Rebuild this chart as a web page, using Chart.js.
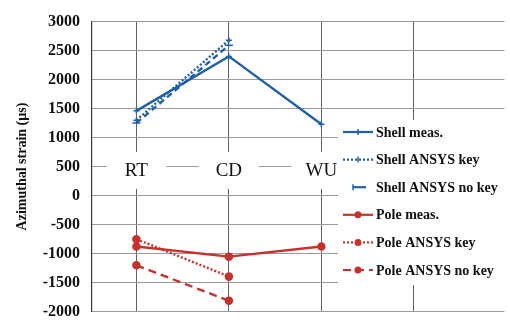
<!DOCTYPE html>
<html>
<head>
<meta charset="utf-8">
<script src="https://cdn.jsdelivr.net/npm/chart.js@4.4.1/dist/chart.umd.min.js"></script>
<style>
  html, body { margin: 0; padding: 0; background: #fff; }
  #wrap { width: 510px; height: 333px; }
</style>
</head>
<body>
<div id="wrap"><canvas id="strainChart" width="510" height="333"></canvas></div>
<script>
// categories (load stages)
const stages = ['RT', 'CD', 'WU'];
const yTicks = [-2000, -1500, -1000, -500, 0, 500, 1000, 1500, 2000, 2500, 3000];

// azimuthal strain, microstrain
const shellMeas = [1460, 2400, 1230];
const shellKey = [1300, 2680];
const shellNoKey = [1250, 2590];
const poleMeas = [-880, -1055, -880];
const poleKey = [-755, -1400];
const poleNoKey = [-1205, -1815];

const BLUE = '#2060a8';
const RED = '#c8302c';
const serif = '"Liberation Serif", "DejaVu Serif", serif';

const toPoints = (vals) => vals.map((v, i) => ({ x: i, y: v }));

const series = [
  { label: 'Shell meas.', data: shellMeas, color: BLUE, dash: [], point: 'cross', r: 3 },
  { label: 'Shell ANSYS key', data: shellKey, color: BLUE, dash: [2, 2], point: 'cross', r: 3 },
  { label: 'Shell ANSYS no key', data: shellNoKey, color: BLUE, dash: [6, 4], point: 'line', r: 4 },
  { label: 'Pole meas.', data: poleMeas, color: RED, dash: [], point: 'circle', r: 3.5 },
  { label: 'Pole ANSYS key', data: poleKey, color: RED, dash: [2, 2], point: 'circle', r: 3.5 },
  { label: 'Pole ANSYS no key', data: poleNoKey, color: RED, dash: [8, 5], point: 'circle', r: 3.5 }
];

// category names sit inside the plot, just under the 500 line
const stageLabels = {
  id: 'stageLabels',
  beforeDatasetsDraw(chart) {
    const { ctx, scales } = chart;
    const y = scales.y.getPixelForValue(440);
    ctx.save();
    ctx.font = '19px ' + serif;
    ctx.textAlign = 'center';
    ctx.textBaseline = 'middle';
    stages.forEach((s, i) => {
      const x = scales.x.getPixelForValue(i);
      ctx.fillStyle = '#fff';
      ctx.fillRect(x - 30, y - 18, 60, 37);
      ctx.fillStyle = '#111';
      ctx.fillText(s, x, y + 1);
    });
    ctx.restore();
  }
};

const boxLegend = {
  id: 'boxLegend',
  afterDraw(chart) {
    const { ctx } = chart;
    ctx.save();
    ctx.fillStyle = '#fff';
    ctx.fillRect(338, 120, 170, 165);
    ctx.font = 'bold 14px ' + serif;
    ctx.textBaseline = 'middle';
    series.forEach((s, i) => {
      const y = 132 + i * 27.6;
      ctx.strokeStyle = s.color;
      ctx.lineWidth = 2.2;
      ctx.setLineDash(s.dash);
      ctx.beginPath();
      if (s.point === 'line') {
        ctx.setLineDash([]);
        ctx.moveTo(353, y);
        ctx.lineTo(366, y);
      } else {
        ctx.moveTo(343, y);
        ctx.lineTo(373, y);
      }
      ctx.stroke();
      ctx.setLineDash([]);
      if (s.point === 'circle') {
        ctx.fillStyle = s.color;
        ctx.beginPath();
        ctx.arc(358, y, 3.5, 0, Math.PI * 2);
        ctx.fill();
      } else {
        ctx.lineWidth = 1.5;
        ctx.beginPath();
        ctx.moveTo(s.point === 'line' ? 353 : 358, y - 3);
        ctx.lineTo(s.point === 'line' ? 353 : 358, y + 3);
        ctx.stroke();
      }
      ctx.fillStyle = '#111';
      ctx.fillText(s.label, 376, y + 1);
    });
    ctx.restore();
  }
};

new Chart(document.getElementById('strainChart'), {
  type: 'line',
  data: {
    datasets: series.map((s) => ({
      label: s.label,
      data: toPoints(s.data),
      borderColor: s.color,
      backgroundColor: s.color,
      borderWidth: 2.4,
      borderDash: s.dash,
      pointStyle: s.point,
      pointRadius: s.r,
      pointBorderWidth: 1.5,
      tension: 0
    }))
  },
  options: {
    responsive: false,
    animation: false,
    layout: { padding: { top: 12, bottom: -4, left: 0, right: 2 } },
    plugins: {
      legend: { display: false },
      tooltip: { enabled: false }
    },
    scales: {
      x: {
        type: 'linear',
        min: -0.48,
        max: 3.98,
        afterBuildTicks: (scale) => { scale.ticks = [0, 1, 2, 3].map((v) => ({ value: v })); },
        afterFit: (scale) => { scale.height = 0; },
        ticks: { display: false },
        border: { display: false },
        grid: { color: '#5a6470', lineWidth: 1, drawTicks: false }
      },
      y: {
        min: -2000,
        max: 3000,
        afterBuildTicks: (scale) => { scale.ticks = yTicks.map((v) => ({ value: v })); },
        afterFit: (scale) => { scale.width = 92; },
        ticks: {
          color: '#111',
          padding: 12,
          callback: (v) => String(v),
          font: { family: serif, size: 16, weight: 'bold' }
        },
        border: { display: true, color: '#333a44', width: 1.2 },
        grid: { color: '#9a9a9a', lineWidth: 1, drawTicks: false },
        title: {
          display: true,
          text: 'Azimuthal strain (µs)',
          color: '#111',
          font: { family: serif, size: 14, weight: 'bold' },
          padding: { top: 14, bottom: 0 }
        }
      }
    }
  },
  plugins: [stageLabels, boxLegend]
});
</script>
</body>
</html>
